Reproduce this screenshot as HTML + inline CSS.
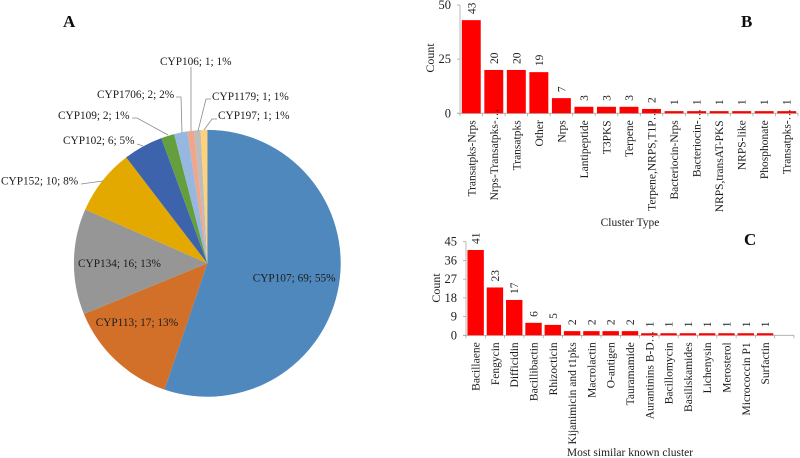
<!DOCTYPE html>
<html lang="en">
<head>
<meta charset="utf-8">
<title>CYP distribution and cluster types</title>
<style>
html,body{margin:0;padding:0;background:#fff;width:800px;height:458px;overflow:hidden}
svg{display:block}
text{font-family:"Liberation Serif",serif;fill:#1c1c1c}
.t{font-size:11.3px}
.bar-t{font-size:11.5px}
.panel{font-size:17px;font-weight:bold;fill:#111}
.lead{fill:none;stroke:#8a8a8a;stroke-width:.8}
</style>
</head>
<body>
<svg id="figure" width="800" height="458" viewBox="0 0 800 458" xmlns="http://www.w3.org/2000/svg">
  <defs><filter id="soft" x="-2%" y="-2%" width="104%" height="104%"><feGaussianBlur stdDeviation="0.3"/></filter></defs>
  <g id="root" filter="url(#soft)">
    <g id="pie"></g>
    <g>
      <polyline class="lead" points="191,67 191,131"/>
      <polyline class="lead" points="176,97 181,97 182,133"/>
      <polyline class="lead" points="211,99 206,99 198,131"/>
      <polyline class="lead" points="217,119 212,119 204,130"/>
      <polyline class="lead" points="132,118 137,118 168,135"/>
      <polyline class="lead" points="137,144 143,146"/>
      <polyline class="lead" points="81,184 103,181"/>
    </g>
    <g>
      <text class="t" x="252.7" y="281.5">CYP107; 69; 55%</text>
      <text class="t" x="95.7" y="326">CYP113; 17; 13%</text>
      <text class="t" x="78" y="267">CYP134; 16; 13%</text>
      <text class="t" x="1" y="184.5">CYP152; 10; 8%</text>
      <text class="t" x="63" y="144">CYP102; 6; 5%</text>
      <text class="t" x="58" y="119">CYP109; 2; 1%</text>
      <text class="t" x="97" y="98">CYP1706; 2; 2%</text>
      <text class="t" x="160" y="65">CYP106; 1; 1%</text>
      <text class="t" x="212" y="100">CYP1179; 1; 1%</text>
      <text class="t" x="218" y="119">CYP197; 1; 1%</text>
    </g>
    <text class="panel" x="63" y="27">A</text>
    <text class="panel" x="741" y="27">B</text>
    <text class="panel" x="744" y="245">C</text>
    <g id="chartB"></g>
    <g id="chartC"></g>
  </g>
</svg>
<script>
const pieValues = [69, 17, 16, 10, 6, 2, 2, 1, 1, 1];
const pieColors = ['#5088bc', '#d2702b', '#969696', '#e3a900', '#3d64ac', '#659f3e', '#96b8e0', '#efa68a', '#bdbdbd', '#ffd27a'];
const pieNames = ['cyp107', 'cyp113', 'cyp134', 'cyp152', 'cyp102', 'cyp109', 'cyp1706', 'cyp106', 'cyp1179', 'cyp197'];

const typeCategories = ['Transatpks-Nrps', 'Nrps-Transatpks-…', 'Transatpks', 'Other', 'Nrps', 'Lantipeptide', 'T3PKS', 'Terpene', 'Terpene,NRPS,T1P…', 'Bacteriocin-Nrps', 'Bacteriocin-…', 'NRPS,transAT-PKS', 'NRPS-like', 'Phosphonate', 'Transatpks-…'];
const typeCounts = [43, 20, 20, 19, 7, 3, 3, 3, 2, 1, 1, 1, 1, 1, 1];
const typeTicks = [0, 25, 50];

const knownCategories = ['Bacillaene', 'Fengycin', 'Difficidin', 'Bacillibactin', 'Rhizocticin', 'Kijanimicin and t1pks', 'Macrolactin', 'O-antigen', 'Tauramamide', 'Aurantinins B-D…', 'Bacillomycin', 'Basiliskamides', 'Lichenysin', 'Merosterol', 'Micrococcin P1', 'Surfactin', ''];
const knownCounts = [41, 23, 17, 6, 5, 2, 2, 2, 2, 1, 1, 1, 1, 1, 1, 1, null];
const knownTicks = [0, 9, 18, 27, 36, 45];

const NS = 'http://www.w3.org/2000/svg';
function mk(parent, tag, attrs, txt) {
  const el = document.createElementNS(NS, tag);
  for (const k in attrs) el.setAttribute(k, attrs[k]);
  if (txt !== undefined) el.textContent = txt;
  parent.appendChild(el);
  return el;
}

function drawPie() {
  const g = document.getElementById('pie');
  const cx = 207.3, cy = 263.3, r = 133.4;
  const total = pieValues.reduce((a, b) => a + b, 0);
  let acc = 0;
  pieValues.forEach((v, i) => {
    const a0 = acc / total * 2 * Math.PI;
    acc += v;
    const a1 = acc / total * 2 * Math.PI;
    const large = a1 - a0 > Math.PI ? 1 : 0;
    const d = 'M' + cx + ' ' + cy +
      'L' + (cx + r * Math.sin(a0)) + ' ' + (cy - r * Math.cos(a0)) +
      'A' + r + ' ' + r + ' 0 ' + large + ' 1 ' + (cx + r * Math.sin(a1)) + ' ' + (cy - r * Math.cos(a1)) + 'Z';
    const p = mk(g, 'path', { d: d, fill: pieColors[i] });
    
    
  });
}

function drawBars(opts) {
  const g = opts.g, cats = opts.cats, vals = opts.vals, ticks = opts.ticks;
  const step = (opts.x1 - opts.x0) / cats.length;
  const maxTick = ticks[ticks.length - 1];
  const yScale = v => opts.y0 - v / maxTick * (opts.y0 - opts.yTop);
  const xScale = i => opts.x0 + i * step;

  const axis = mk(g, 'line', { x1: opts.x0 - 3, x2: opts.x1, y1: opts.y0, y2: opts.y0, stroke: '#a8a8a8', 'stroke-width': 0.8 });
  
  
  const yAxis = mk(g, 'line', { x1: opts.x0, x2: opts.x0, y1: opts.y0 + 3, y2: opts.yTop, stroke: '#a8a8a8', 'stroke-width': 0.8 });
  
  

  ticks.forEach(t => {
    const tm = mk(g, 'line', { x1: opts.x0 - 3, x2: opts.x0, y1: yScale(t), y2: yScale(t), stroke: '#a8a8a8', 'stroke-width': 0.8 });
    
    
    const tl = mk(g, 'text', { x: opts.x0 - 9, y: yScale(t) + 4, 'text-anchor': 'end', 'font-size': 12.5 }, String(t));
    
    
  });

  cats.forEach((c, i) => {
    const tk = mk(g, 'line', { x1: xScale(i + 1), x2: xScale(i + 1), y1: opts.y0, y2: opts.y0 + 3, stroke: '#a8a8a8', 'stroke-width': 0.8 });
    
    
    const mid = xScale(i) + step / 2;
    if (vals[i] !== null) {
      const barW = step * opts.barFrac;
      const top = yScale(vals[i]);
      const b = mk(g, 'rect', { x: mid - barW / 2, y: top, width: barW, height: opts.y0 - top, fill: '#fe0000' });
      
      
      const lx = mid + 4, ly = top - 6;
      const vl = mk(g, 'text', { x: lx, y: ly, class: 'bar-t', transform: 'rotate(-90 ' + lx + ' ' + ly + ')' }, String(vals[i]));
      
      
    }
    if (c) {
      const truncated = c.endsWith('…');
      const cx = mid + 4, cy = opts.y0 + (truncated ? -4.5 : 7);
      const cl = mk(g, 'text', { x: cx, y: cy, class: 'bar-t', 'text-anchor': 'end', transform: 'rotate(-90 ' + cx + ' ' + cy + ')' }, c);
      
      
    }
  });

  const xt = mk(g, 'text', { x: opts.xTitleX, y: opts.xTitleY, 'text-anchor': 'middle', 'font-size': 11.5 }, opts.xTitle);
  
  
  const yt = mk(g, 'text', { x: opts.yTitleX, y: opts.yTitleY, 'text-anchor': 'middle', 'font-size': 12, transform: 'rotate(-90 ' + opts.yTitleX + ' ' + opts.yTitleY + ')' }, 'Count');
  
  
}

drawPie();
drawBars({
  g: document.getElementById('chartB'), cats: typeCategories, vals: typeCounts, ticks: typeTicks,
  x0: 460, x1: 798, y0: 113.3, yTop: 5, barFrac: 0.84,
  xTitle: 'Cluster Type', xTitleX: 630, xTitleY: 226, yTitleX: 434, yTitleY: 58
});
drawBars({
  g: document.getElementById('chartC'), cats: knownCategories, vals: knownCounts, ticks: knownTicks,
  x0: 466, x1: 794, y0: 335.3, yTop: 241.7, barFrac: 0.85,
  xTitle: 'Most similar known cluster', xTitleX: 630, xTitleY: 456, yTitleX: 440, yTitleY: 288
});
</script>
</body>
</html>
